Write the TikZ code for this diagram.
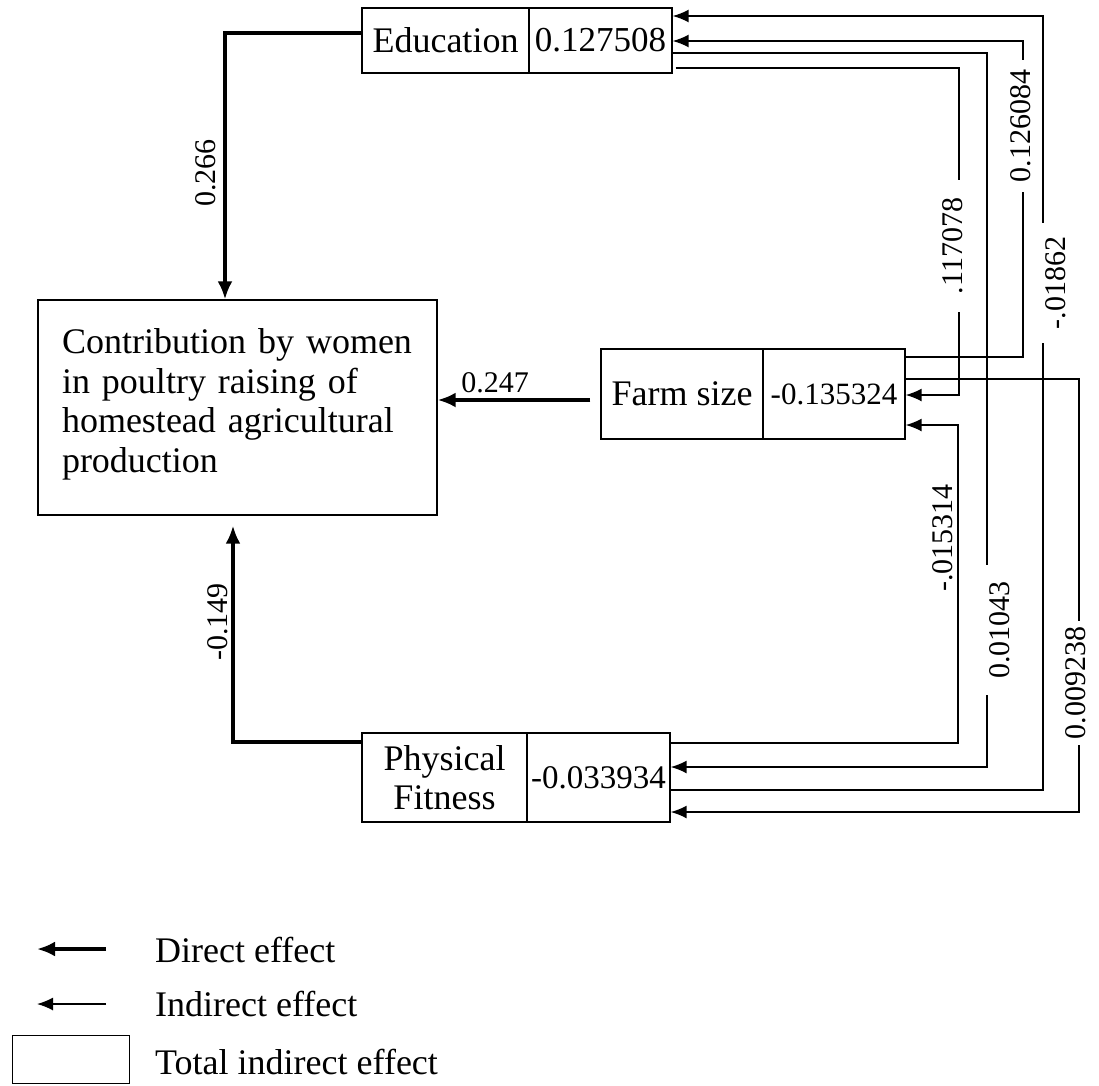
\documentclass[tikz,border=0pt]{standalone}
\usepackage{fontspec}
\setmainfont{Liberation Serif}
\usetikzlibrary{arrows.meta}
\begin{document}
\begin{tikzpicture}[x=1pt,y=-1pt,
  box/.style={draw, line width=1.4pt, inner sep=0pt, align=center},
  ind/.style={line width=1.5pt, -{Latex[length=16pt,width=13pt]}},
  dir/.style={line width=3.2pt, -{Latex[length=18pt,width=15pt]}},
  lab/.style={font=\fontsize{30}{30}\selectfont, rotate=90, inner ysep=2pt},
  gap/.style={lab, fill=white},
  legtext/.style={anchor=west, inner sep=0pt, font=\fontsize{36}{36}\selectfont}
]
\useasboundingbox (0,0) rectangle (1099,1085);

% boxes
\node[box, minimum width=167pt, minimum height=65pt, font=\fontsize{36}{36}\selectfont] (edu) at (445.5,40.5) {Education};
\node[box, minimum width=143pt, minimum height=65pt, font=\fontsize{35}{35}\selectfont] (eduv) at (600.5,40.5) {0.127508};
\node[box, minimum width=162pt, minimum height=90pt, font=\fontsize{36}{36}\selectfont] (farm) at (682,394) {Farm size};
\node[box, minimum width=142pt, minimum height=90pt, font=\fontsize{31}{31}\selectfont] (farmv) at (834,394) {-0.135324};
\node[box, minimum width=165pt, minimum height=89pt, font=\fontsize{36}{39}\selectfont] (pf) at (444.5,777.5) {Physical\\Fitness};
\node[box, minimum width=143pt, minimum height=89pt, font=\fontsize{33}{33}\selectfont] (pfv) at (598.5,777.5) {-0.033934};
\node[box, minimum width=399pt, minimum height=215pt, text width=351pt, align=left, font=\fontsize{36}{39.5}\selectfont] (con) at (237.5,407.5) {Contribution by women\\in poultry raising of\\homestead agricultural\\production\\[-26pt]\mbox{}};

% direct effects
\coordinate (b1) at (225,33);
\coordinate (b2) at (590,400);
\coordinate (b3) at (233,742);
\draw[dir] (edu.west |- b1) -- (b1) -- (b1 |- con.north);
\draw[dir, shorten <=10pt] (farm.west |- b2) -- (b2 -| con.east);
\draw[dir, shorten >=10pt] (pf.west |- b3) -- (b3) -- (b3 |- con.south);
\node[lab] (l266) at (206,173) {0.266};
\node[font=\fontsize{30}{30}\selectfont] (l247) at (495,383) {0.247};
\node[lab] (l149) at (218,622) {-0.149};

% indirect effects
\coordinate (c1a) at (1043,790); \coordinate (c1b) at (1043,16);
\coordinate (c2a) at (1023,357); \coordinate (c2b) at (1023,41);
\coordinate (c3a) at (987,53);   \coordinate (c3b) at (987,767);
\coordinate (c4a) at (959,68);   \coordinate (c4b) at (959,395);
\coordinate (c5a) at (1079,379); \coordinate (c5b) at (1079,812);
\coordinate (c6a) at (958,743);  \coordinate (c6b) at (958,425);
\draw[ind] (pfv.east |- c1a) -- (c1a) -- (c1b) -- (c1b -| eduv.east);
\draw[ind] (farmv.east |- c2a) -- (c2a) -- (c2b) -- (c2b -| eduv.east);
\draw[ind] (eduv.east |- c3a) -- (c3a) -- (c3b) -- (c3b -| pfv.east);
\draw[ind, shorten <=3pt] (eduv.east |- c4a) -- (c4a) -- (c4b) -- (c4b -| farmv.east);
\draw[ind] (farmv.east |- c5a) -- (c5a) -- (c5b) -- (c5b -| pfv.east);
\draw[ind] (pfv.east |- c6a) -- (c6a) -- (c6b) -- (c6b -| farmv.east);

\node[gap, inner xsep=18pt] (l117) at (953,246) {.117078};
\node[gap, inner xsep=10pt] (l126) at (1021,126) {0.126084};
\node[gap, minimum height=36pt, inner xsep=14pt] (l018) at (1056,283) {-.01862};
\node[lab] (l015) at (943,538) {-.015314};
\node[gap, minimum height=40pt, inner xsep=16pt] (l010) at (1000,630) {0.01043};
\node[gap, inner xsep=6pt] (l009) at (1076,683) {0.009238};

% legend
\coordinate (d1) at (106,949); \coordinate (d2) at (37,949);
\coordinate (i1) at (106,1004); \coordinate (i2) at (37,1004);
\draw[dir, line width=3.5pt] (d1) -- (d2);
\draw[ind] (i1) -- (i2);
\node[box, minimum width=117pt, minimum height=48pt, anchor=north west] (lbox) at (12,1035) {};
\node[legtext] (t1) at (155,950) {Direct effect};
\node[legtext] (t2) at (155,1004) {Indirect effect};
\node[legtext] (t3) at (155,1062) {Total indirect effect};
\end{tikzpicture}
\end{document}
